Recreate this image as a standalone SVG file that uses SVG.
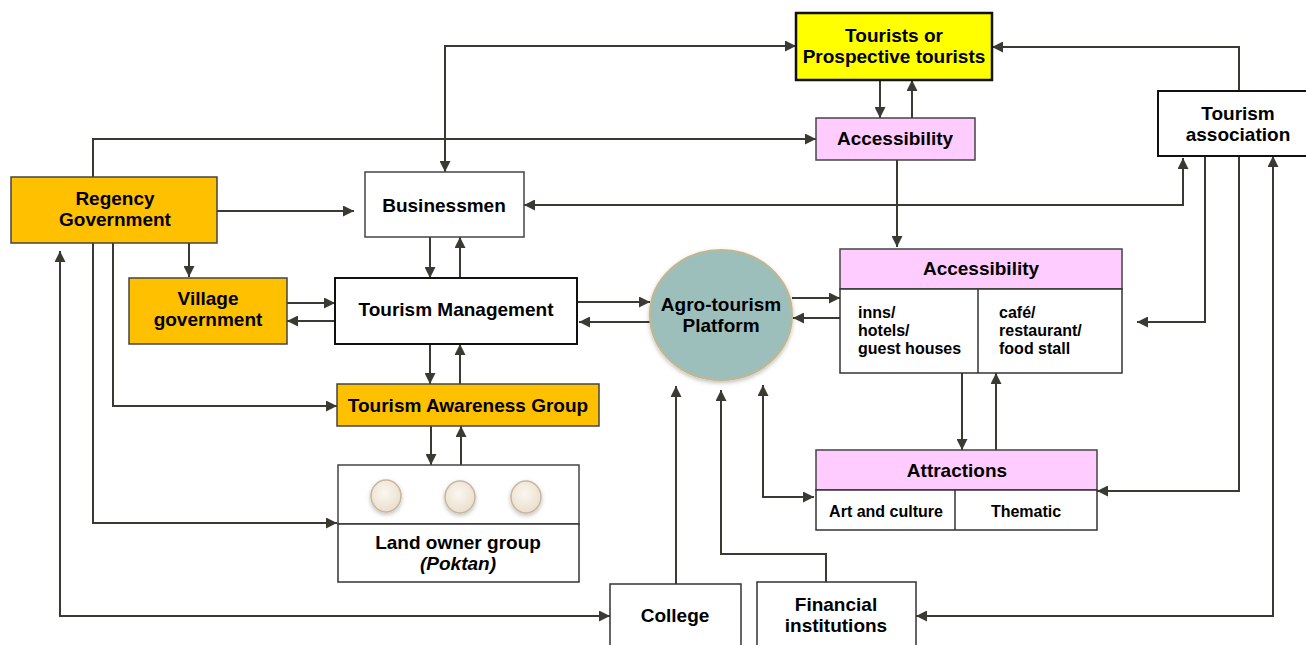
<svg xmlns="http://www.w3.org/2000/svg" width="1306" height="645" viewBox="0 0 1306 645">
<defs>
<marker id="ah" viewBox="0 0 10 10" refX="10" refY="5" markerWidth="11" markerHeight="11" markerUnits="userSpaceOnUse" orient="auto-start-reverse">
<path d="M0,0 L10,5 L0,10 z" fill="#3b3a32"/>
</marker>
<radialGradient id="cg" cx="0.45" cy="0.4" r="0.6">
<stop offset="0" stop-color="#fbf7f0"/>
<stop offset="1" stop-color="#eadfce"/>
</radialGradient>
<filter id="sh" x="-20%" y="-20%" width="140%" height="140%">
<feDropShadow dx="0" dy="2" stdDeviation="2" flood-color="#000" flood-opacity="0.25"/>
</filter>
</defs>
<style>
.box{stroke:#2b2b2b;stroke-width:2}
.t{font-family:"Liberation Sans",Arial,sans-serif;font-weight:bold;font-size:19px;fill:#000;text-anchor:middle}
.s{font-family:"Liberation Sans",Arial,sans-serif;font-weight:bold;font-size:16px;fill:#000}
.c{fill:none;stroke:#3b3a32;stroke-width:2}
.a{marker-end:url(#ah)}
.b{marker-start:url(#ah);marker-end:url(#ah)}
</style>
<rect width="1306" height="645" fill="#fff"/>

<g id="connectors">
<path class="c b" d="M445,172 V46 H796"/>
<path class="c a" d="M93,177 V139 H816"/>
<path class="c a" d="M880,80 V118"/>
<path class="c a" d="M912,118 V80"/>
<path class="c a" d="M1239,91 V47 H992"/>
<path class="c a" d="M897,160 V247"/>
<path class="c b" d="M524,205 H1183 V158"/>
<path class="c a" d="M217,211 H354"/>
<path class="c a" d="M93,243 V523 H337"/>
<path class="c a" d="M113,243 V406 H337"/>
<path class="c a" d="M189,243 V277"/>
<path class="c b" d="M60,251 V616 H610"/>
<path class="c a" d="M430,237 V278"/>
<path class="c a" d="M460,278 V237"/>
<path class="c a" d="M287,303 H335"/>
<path class="c a" d="M335,321 H287"/>
<path class="c a" d="M430,344 V384"/>
<path class="c a" d="M460,384 V344"/>
<path class="c a" d="M431,426 V465"/>
<path class="c a" d="M461,465 V426"/>
<path class="c a" d="M577,302 H650"/>
<path class="c a" d="M650,322 H579"/>
<path class="c a" d="M792,298 H840"/>
<path class="c a" d="M840,318 H793"/>
<path class="c a" d="M676,584 V386"/>
<path class="c a" d="M826,582 V554 H721 V390"/>
<path class="c b" d="M763,385 V497 H814"/>
<path class="c a" d="M962,373 V450"/>
<path class="c a" d="M996,450 V373"/>
<path class="c a" d="M1205,156 V322 H1137"/>
<path class="c a" d="M1239,156 V491 H1097"/>
<path class="c b" d="M1273,156 V616 H916"/>
</g>

<g id="tourists">
<rect x="796" y="13" width="196" height="67" fill="#ffff00" stroke="#111" stroke-width="2.5"/>
<text class="t" x="894" y="42">Tourists or</text>
<text class="t" x="894" y="63">Prospective tourists</text>
</g>

<g id="accessibility-top">
<rect x="816" y="118" width="159" height="42" fill="#ffccff" stroke="#444" stroke-width="1.5"/>
<text class="t" x="895" y="145">Accessibility</text>
</g>

<g id="tourism-association">
<rect x="1158" y="91" width="150" height="65" fill="#fff" stroke="#111" stroke-width="2"/>
<text class="t" x="1238" y="120">Tourism</text>
<text class="t" x="1238" y="141">association</text>
</g>

<g id="regency">
<rect x="11" y="177" width="206" height="66" fill="#ffc000" stroke="#444" stroke-width="1.5"/>
<text class="t" x="115" y="205">Regency</text>
<text class="t" x="115" y="226">Government</text>
</g>

<g id="businessmen">
<rect x="365" y="172" width="159" height="65" fill="#fff" stroke="#444" stroke-width="1.5"/>
<text class="t" x="444" y="212">Businessmen</text>
</g>

<g id="village">
<rect x="129" y="278" width="158" height="66" fill="#ffc000" stroke="#444" stroke-width="1.5"/>
<text class="t" x="208" y="305">Village</text>
<text class="t" x="208" y="326">government</text>
</g>

<g id="tourism-management">
<rect x="335" y="278" width="242" height="66" fill="#fff" stroke="#111" stroke-width="2"/>
<text class="t" x="456" y="316">Tourism Management</text>
</g>

<g id="agro-platform">
<ellipse cx="721" cy="315" rx="71" ry="65" fill="#9dbfbc" stroke="#c4b68c" stroke-width="2" filter="url(#sh)"/>
<text class="t" x="721" y="311">Agro-tourism</text>
<text class="t" x="721" y="332">Platform</text>
</g>

<g id="accessibility-big">
<rect x="840" y="249" width="282" height="40" fill="#ffccff" stroke="#444" stroke-width="1.5"/>
<rect x="840" y="289" width="282" height="84" fill="#fff" stroke="#333" stroke-width="1.5"/>
<line x1="978" y1="289" x2="978" y2="373" stroke="#333" stroke-width="1.5"/>
<text class="t" x="981" y="275">Accessibility</text>
<text class="s" x="858" y="318">inns/</text>
<text class="s" x="858" y="336">hotels/</text>
<text class="s" x="858" y="354">guest houses</text>
<text class="s" x="999" y="318">café/</text>
<text class="s" x="999" y="336">restaurant/</text>
<text class="s" x="999" y="354">food stall</text>
</g>

<g id="awareness-group">
<rect x="337" y="384" width="262" height="42" fill="#ffc000" stroke="#444" stroke-width="1.5"/>
<text class="t" x="468" y="412">Tourism Awareness Group</text>
</g>

<g id="land-owner">
<rect x="338" y="465" width="241" height="59" fill="#fff" stroke="#444" stroke-width="1.5"/>
<rect x="338" y="524" width="241" height="58" fill="#fff" stroke="#333" stroke-width="1.5"/>
<ellipse cx="386" cy="496" rx="15" ry="16" fill="url(#cg)" stroke="#c8b79a" stroke-width="1.5" filter="url(#sh)"/>
<ellipse cx="460" cy="497" rx="15" ry="16" fill="url(#cg)" stroke="#c8b79a" stroke-width="1.5" filter="url(#sh)"/>
<ellipse cx="526" cy="497" rx="15" ry="16" fill="url(#cg)" stroke="#c8b79a" stroke-width="1.5" filter="url(#sh)"/>
<text class="t" x="458" y="549">Land owner group</text>
<text class="t" x="458" y="570" font-style="italic">(Poktan)</text>
</g>

<g id="attractions">
<rect x="816" y="450" width="281" height="40" fill="#ffccff" stroke="#444" stroke-width="1.5"/>
<rect x="816" y="490" width="281" height="40" fill="#fff" stroke="#333" stroke-width="1.5"/>
<line x1="955" y1="490" x2="955" y2="530" stroke="#333" stroke-width="1.5"/>
<text class="t" x="957" y="477">Attractions</text>
<text class="s" x="886" y="517" text-anchor="middle">Art and culture</text>
<text class="s" x="1026" y="517" text-anchor="middle">Thematic</text>
</g>

<g id="college">
<rect x="610" y="584" width="131" height="70" fill="#fff" stroke="#333" stroke-width="1.5"/>
<text class="t" x="675" y="622">College</text>
</g>

<g id="financial">
<rect x="757" y="582" width="159" height="72" fill="#fff" stroke="#333" stroke-width="1.5"/>
<text class="t" x="836" y="611">Financial</text>
<text class="t" x="836" y="632">institutions</text>
</g>
</svg>
